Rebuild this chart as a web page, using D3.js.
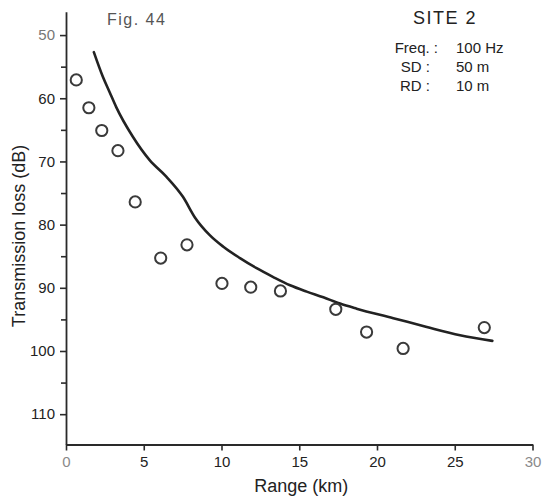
<!DOCTYPE html>
<html>
<head>
<meta charset="utf-8">
<script src="https://cdn.jsdelivr.net/npm/d3@7"></script>
<style>
  html, body { margin: 0; padding: 0; background: #fff; }
  svg { display: block; font-family: "Liberation Sans", Arial, sans-serif; }
</style>
</head>
<body>
<svg id="chart" width="542" height="500"></svg>
<script>
// Measured data (circles)
const measRange = [0.66, 1.47, 2.30, 3.34, 4.45, 6.09, 7.78, 10.03, 11.88, 13.79, 17.35, 19.33, 21.68, 26.90];
const measTL    = [57.1, 61.5, 65.1, 68.3, 76.4, 85.3, 83.2, 89.3, 89.9, 90.5, 93.4, 97.0, 99.6, 96.3];

// Model curve (solid line)
const modelRange = [1.79, 2.37, 2.80, 3.23, 4.30, 5.38, 6.45, 7.52, 8.30, 9.26, 10.12, 11.19, 12.26, 13.33, 14.41, 15.48, 16.55, 17.62, 18.69, 21.05, 23.20, 25.34, 27.42];
const modelTL    = [52.7, 56.6, 59.0, 61.4, 66.1, 69.8, 72.4, 75.6, 78.9, 81.7, 83.5, 85.3, 86.9, 88.3, 89.6, 90.6, 91.5, 92.5, 93.3, 94.8, 96.2, 97.5, 98.4];

// Axis ticks
const xTicks = [0, 5, 10, 15, 20, 25, 30];
const yMajorTicks = [50, 60, 70, 80, 90, 100, 110];
const yMinorTicks = [55, 65, 75, 85, 95, 105];

// Text
const figLabel = "Fig. 44";
const siteLabel = "SITE 2";
const infoLabels = ["Freq. :", "SD :", "RD :"];
const infoValues = ["100 Hz", "50 m", "10 m"];
const xTitle = "Range (km)";
const yTitle = "Transmission loss (dB)";

const svg = d3.select("#chart");
const ink = "#2a2a2a";

const x = d3.scaleLinear().domain([0, 30]).range([66, 532.5]);
const y = d3.scaleLinear().domain([46.3, 114.8]).range([11.7, 444.5]);

// X axis
const xAxisG = svg.append("g")
  .attr("transform", `translate(0,${y(114.8)})`)
  .call(d3.axisBottom(x).tickValues(xTicks).tickFormat(d3.format("d"))
        .tickSize(6).tickSizeOuter(0).tickPadding(6));
xAxisG.select(".domain").attr("stroke", ink).attr("stroke-width", 1.8);
xAxisG.selectAll(".tick line").attr("stroke", ink).attr("stroke-width", 1.6);
xAxisG.selectAll(".tick text")
  .attr("font-size", 15)
  .attr("font-family", "Liberation Sans, Arial, sans-serif")
  .attr("fill", (d, i) => (i === 0 || i === xTicks.length - 1) ? "#8a8a8a" : "#222");

// Y axis (major)
const yAxisG = svg.append("g")
  .attr("transform", `translate(${x(0)},0)`)
  .call(d3.axisLeft(y).tickValues(yMajorTicks).tickFormat(d3.format("d"))
        .tickSize(6).tickSizeOuter(0).tickPadding(5));
yAxisG.select(".domain").attr("stroke", ink).attr("stroke-width", 1.8);
yAxisG.selectAll(".tick line").attr("stroke", ink).attr("stroke-width", 1.6);
yAxisG.selectAll(".tick text")
  .attr("font-size", 15)
  .attr("font-family", "Liberation Sans, Arial, sans-serif")
  .attr("fill", (d, i) => i === 0 ? "#777" : "#222");

// Y axis (minor)
const yMinorG = svg.append("g")
  .attr("transform", `translate(${x(0)},0)`)
  .call(d3.axisLeft(y).tickValues(yMinorTicks).tickFormat("")
        .tickSize(5).tickSizeOuter(0));
yMinorG.select(".domain").remove();
yMinorG.selectAll(".tick line").attr("stroke", ink).attr("stroke-width", 1.6);

// Model curve
const line = d3.line()
  .x((d, i) => x(modelRange[i]))
  .y((d, i) => y(modelTL[i]))
  .curve(d3.curveMonotoneX);
svg.append("path")
  .datum(modelRange)
  .attr("d", line)
  .attr("fill", "none")
  .attr("stroke", "#222")
  .attr("stroke-width", 2.6)
  .attr("stroke-linecap", "round");

// Measured circles
svg.append("g").selectAll("circle")
  .data(measRange)
  .join("circle")
  .attr("cx", (d) => x(d))
  .attr("cy", (d, i) => y(measTL[i]))
  .attr("r", 5.6)
  .attr("fill", "none")
  .attr("stroke", "#3a3a3a")
  .attr("stroke-width", 2);

// Axis titles
svg.append("text")
  .attr("x", (x(0) + x(30)) / 2 + 2)
  .attr("y", 492)
  .attr("text-anchor", "middle")
  .attr("font-size", 18)
  .attr("fill", "#222")
  .text(xTitle);

svg.append("text")
  .attr("transform", `translate(25,${236}) rotate(-90)`)
  .attr("text-anchor", "middle")
  .attr("font-size", 18)
  .attr("fill", "#222")
  .text(yTitle);

// Figure label
svg.append("text")
  .attr("x", 107)
  .attr("y", 25)
  .attr("font-size", 16)
  .attr("letter-spacing", 1.5)
  .attr("fill", "#555")
  .text(figLabel);

// Site block
svg.append("text")
  .attr("x", 445)
  .attr("y", 24)
  .attr("text-anchor", "middle")
  .attr("font-size", 18)
  .attr("letter-spacing", 1.5)
  .attr("fill", "#222")
  .text(siteLabel);

const labelEnds = [438, 430, 430];
const baselines = [53, 72, 91];
infoLabels.forEach((t, i) => {
  svg.append("text")
    .attr("x", labelEnds[i])
    .attr("y", baselines[i])
    .attr("text-anchor", "end")
    .attr("font-size", 15)
    .attr("fill", "#222")
    .text(t);
  svg.append("text")
    .attr("x", 456)
    .attr("y", baselines[i])
    .attr("font-size", 15)
    .attr("fill", "#222")
    .text(infoValues[i]);
});
</script>
</body>
</html>
